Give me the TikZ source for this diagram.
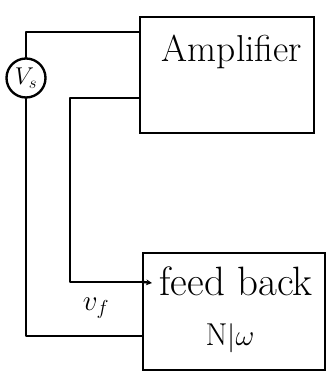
\documentclass[tikz,border=0pt]{standalone}
\usetikzlibrary{arrows.meta}
\begin{document}
\begin{tikzpicture}[x=0.03cm, y=-0.03cm,
  wire/.style={line width=2pt, line join=round, line cap=round},
  blockbox/.style={draw, line width=2pt, inner sep=0pt},
  hand/.style={font=\fontsize{32}{34}\selectfont},
  handsmall/.style={font=\fontsize{27}{29}\selectfont}]
  \useasboundingbox (0,0) rectangle (329,374);

  % amplifier block
  \node[blockbox, minimum width=5.22cm, minimum height=3.48cm] (amp) at (227,75) {};
  \node[hand] (amptext) at (232,52) {Amplifier};

  % feedback network block
  \node[blockbox, minimum width=5.46cm, minimum height=3.51cm] (fb) at (234,311.5) {};
  \node[font=\fontsize{35}{37}\selectfont] (fbtext) at (236,281) {feed back};
  \node[handsmall] (fbnw) at (230,338) {N$|\omega$};

  % source
  \node[draw, circle, line width=2pt, minimum size=1.17cm, inner sep=0pt,
        font=\fontsize{22}{24}\selectfont] (vs) at (26,78) {$V_s$};

  % feedback voltage label
  \node[handsmall] (vf) at (96,308) {$v_f$};

  % points on the block borders
  \path (amp.north west) ++(0,16) coordinate (ain1);
  \path (amp.north west) ++(0,82) coordinate (ain2);
  \path (fb.north west) ++(0,30) coordinate (fin1);
  \path (fb.north west) ++(0,84) coordinate (fin2);
  \coordinate (turn) at (70,99);
  \coordinate (fend) at (152,283);

  % connections
  \draw[wire] (vs.north) |- (ain1);
  \draw[wire] (vs.south) |- (fin2);
  \draw[wire] (ain2) -| (turn |- fin1) -- (fin1);
  \draw[wire, -{Stealth[length=5pt,width=5pt]}] (fin1) -- (fend);
\end{tikzpicture}
\end{document}
